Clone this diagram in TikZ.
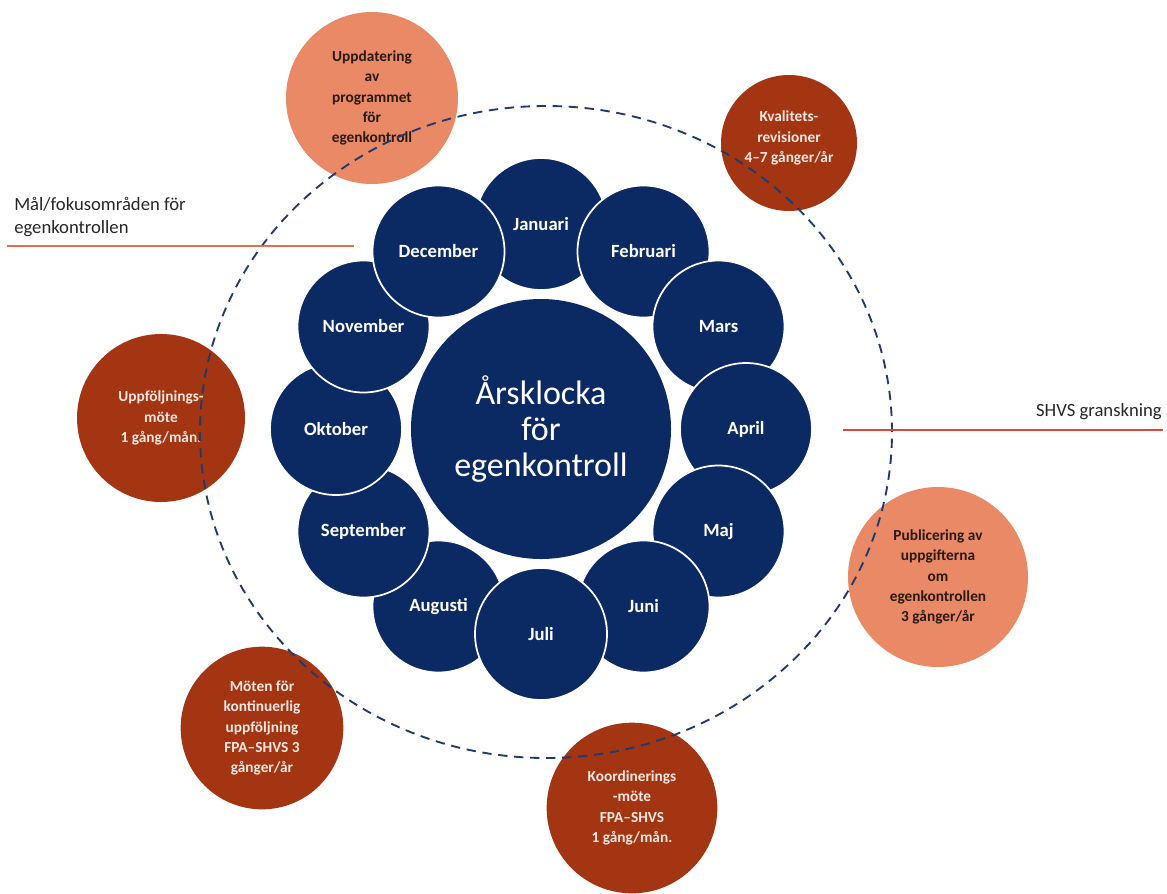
\documentclass[tikz,border=0pt]{standalone}
\usepackage{fontspec}
\setmainfont{Carlito}
\usetikzlibrary{shapes.geometric}
\definecolor{navy}{HTML}{0B2A63}
\definecolor{ringblue}{HTML}{1F3A6E}
\definecolor{darkor}{HTML}{A33512}
\definecolor{lightor}{HTML}{E98966}
\definecolor{lighttxt}{HTML}{F6E7E0}
\definecolor{darktxt}{HTML}{2B1A12}
\definecolor{leftline}{HTML}{E0704A}
\definecolor{rightline}{HTML}{D9483A}
\definecolor{labeltxt}{HTML}{262626}
\tikzset{
  month/.style={circle, fill=navy, draw=white, line width=1.3pt, inner sep=0pt,
    minimum size=99pt, text=white, font=\fontsize{14}{16}\selectfont\bfseries},
  hub/.style={circle, fill=navy, inner sep=0pt, minimum size=195pt, text=white,
    align=center, font=\fontsize{25.5}{27}\selectfont},
  darkevent/.style={circle, fill=darkor, inner sep=0pt, text=lighttxt, align=center,
    font=\fontsize{11.5}{15.2}\selectfont\bfseries},
  lightevent/.style={circle, fill=lightor, inner sep=0pt, text=darktxt, align=center,
    font=\fontsize{11.5}{15.2}\selectfont\bfseries},
  ringline/.style={draw=ringblue, line width=1.4pt, dash pattern=on 7pt off 5pt},
  divider/.style={line width=1.4pt},
  sidelabel/.style={text=labeltxt, font=\fontsize{14}{17.5}\selectfont, inner sep=0pt}
}
\begin{document}
\begin{tikzpicture}[x=0.75pt,y=-0.75pt]
\useasboundingbox (0,0) rectangle (1167,893);
% central hub
\node[hub] (hub) at (541,429) {Årsklocka\\för\\egenkontroll};
% months
\node[month] (jan) at (541,224) {Januari};
\node[month] (feb) at (643.5,251.5) {Februari};
\node[month] (mar) at (718.5,326.5) {Mars};
\node[month] (apr) at (746,429) {April};
\node[month] (maj) at (718.5,531.5) {Maj};
\node[month] (jun) at (643.5,606.5) {Juni};
\node[month] (aug) at (438.5,606.5) {Augusti};
\node[month] (jul) at (541,634) {Juli};
\node[month] (sep) at (363.5,531.5) {September};
\node[month] (okt) at (336,429) {Oktober};
\node[month] (nov) at (363.5,326.5) {November};
\node[month] (dec) at (438.5,251.5) {December};
% events
\node[lightevent, minimum size=129pt] (upd) at (372,98) {Uppdatering\\av\\programmet\\för\\egenkontroll};
\node[darkevent, minimum size=102pt] (kval) at (789,143) {};
\node[text=lighttxt, align=center, font=\fontsize{11.5}{15.2}\selectfont\bfseries] (kvaltxt) at (789,138) {Kvalitets-\\revisioner\\4–7 gånger/år};
\node[darkevent, minimum size=126pt] (uppf) at (161,418) {Uppföljnings-\\möte\\1 gång/mån.};
\node[lightevent, minimum size=135pt] (publ) at (938,577) {Publicering av\\uppgifterna\\om\\egenkontrollen\\3 gånger/år};
\node[darkevent, minimum size=122pt] (mot) at (262,728) {Möten för\\kontinuerlig\\uppföljning\\FPA–SHVS 3\\gånger/år};
\node[darkevent, minimum size=128pt] (koord) at (632,808) {Koordinerings\\-möte\\FPA–SHVS\\1 gång/mån.};
% dashed ring
\node[ellipse, ringline, inner sep=0pt, minimum width=519pt, minimum height=489pt] (ring) at (546,432) {};
% side labels and dividers
\coordinate (l1) at (7,246);
\coordinate (l2) at (354,246);
\coordinate (r1) at (843,430);
\coordinate (r2) at (1163,430);
\draw[divider, leftline] (l1) -- (l2);
\draw[divider, rightline] (r1) -- (r2);
\node[sidelabel, anchor=south west, align=left] (goal) at (14,237) {Mål/fokusområden för\\egenkontrollen};
\node[sidelabel, anchor=south east] (shvs) at (1162,420) {SHVS granskning};
\end{tikzpicture}
\end{document}
